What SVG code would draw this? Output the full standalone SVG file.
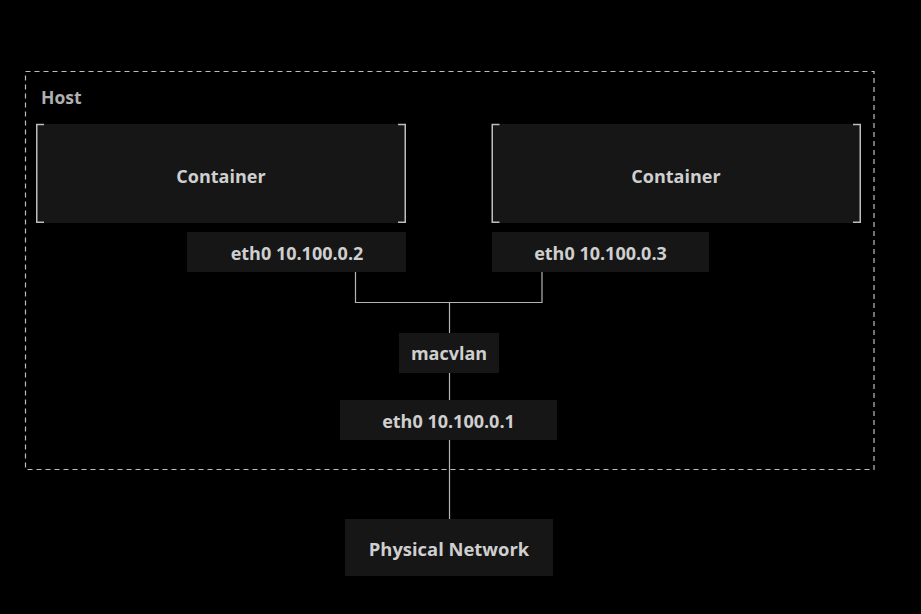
<svg xmlns="http://www.w3.org/2000/svg" width="921" height="614" viewBox="0 0 921 614">
<style>
.box{fill:#161616;}
.br{fill:none;stroke:#bdbdbd;stroke-width:1.5;}
.ln{fill:none;stroke:#b5b5b5;stroke-width:1.2;}
.t{font-family:"Open Sans","Noto Sans",sans-serif;font-weight:700;fill:#cfcfcf;text-anchor:middle;dominant-baseline:central;}
.lb{font-size:18px;}
</style>
<rect width="921" height="614" fill="#000"/>
<g id="host">
<rect x="25.5" y="71.5" width="848.5" height="398" fill="none" stroke="#bdbdbd" stroke-width="1.2" stroke-dasharray="5,4"/>
<text x="41" y="97" class="t" style="text-anchor:start;font-size:17.5px;fill:#b0b0b0">Host</text>
</g>
<g id="connectors">
<path class="ln" d="M355.5 272 V302.5 H542 V272"/>
<path class="ln" d="M449.5 302.5 V333"/>
<path class="ln" d="M449.5 373 V400"/>
<path class="ln" d="M449.5 440 V519"/>
</g>
<g id="container1">
<rect class="box" x="36" y="124" width="370" height="99"/>
<path class="br" d="M44 124.5 H36.75 V222.25 H44 M398 124.5 H405.25 V222.25 H398"/>
<text x="221" y="176" class="t" style="font-size:18px">Container</text>
</g>
<g id="container2">
<rect class="box" x="491.5" y="124" width="369" height="99"/>
<path class="br" d="M499.5 124.5 H492.25 V222.25 H499.5 M853 124.5 H860.25 V222.25 H853"/>
<text x="676" y="176" class="t" style="font-size:18px">Container</text>
</g>
<g id="eth0-2">
<rect class="box" x="187" y="232" width="219" height="40"/>
<text x="297" y="252.5" class="t lb">eth0 10.100.0.2</text>
</g>
<g id="eth0-3">
<rect class="box" x="492" y="232" width="217" height="40"/>
<text x="600.5" y="252.5" class="t lb">eth0 10.100.0.3</text>
</g>
<g id="macvlan">
<rect class="box" x="399" y="333" width="100" height="40"/>
<text x="449" y="353" class="t lb">macvlan</text>
</g>
<g id="eth0-1">
<rect class="box" x="340" y="400" width="217" height="40"/>
<text x="448.5" y="420.5" class="t lb">eth0 10.100.0.1</text>
</g>
<g id="physical">
<rect class="box" x="345" y="519" width="208" height="57"/>
<text x="449" y="548" class="t" style="font-size:18.4px">Physical Network</text>
</g>
</svg>
